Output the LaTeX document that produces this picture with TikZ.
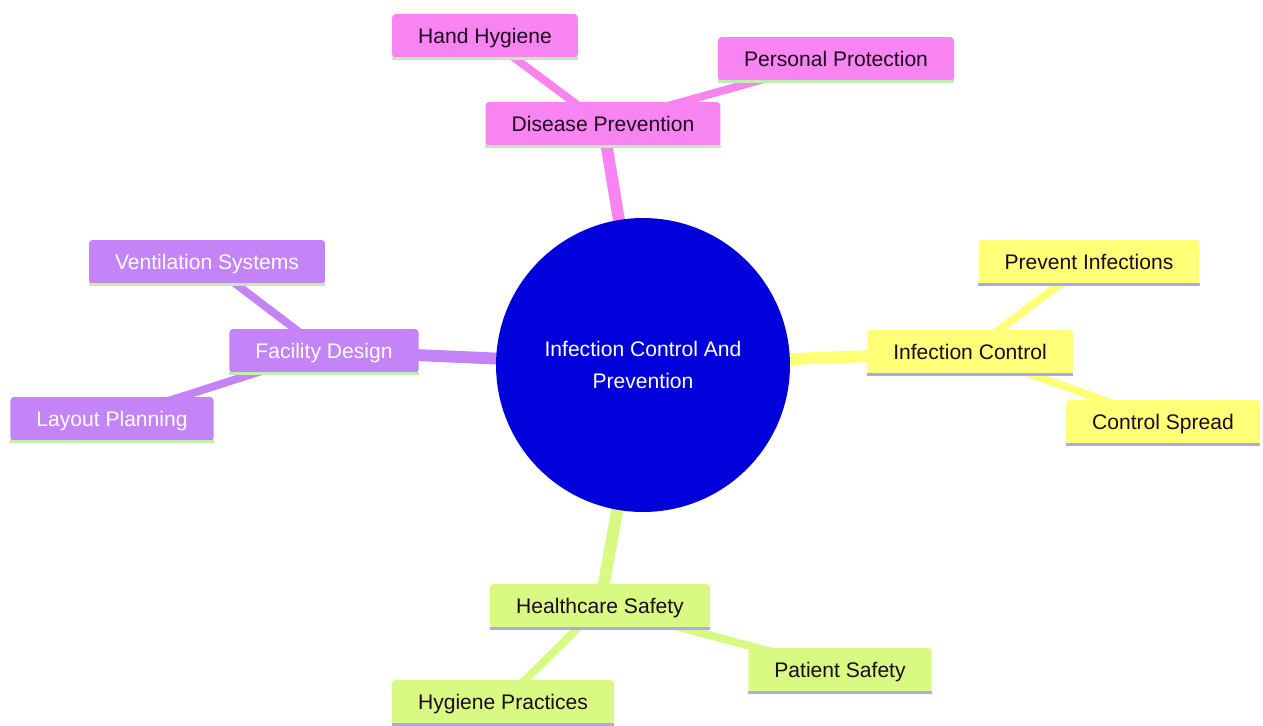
\documentclass[tikz,border=0pt]{standalone}
\usepackage{fontspec}
\setmainfont{Liberation Sans}
\usetikzlibrary{backgrounds}
\definecolor{pinkfill}{RGB}{247,132,241}
\definecolor{purplefill}{RGB}{196,132,247}
\definecolor{yellowfill}{RGB}{255,255,120}
\definecolor{limefill}{RGB}{216,250,130}
\definecolor{hubblue}{RGB}{0,0,218}
\definecolor{greenline}{RGB}{192,238,172}
\definecolor{lavline}{RGB}{172,170,236}
\definecolor{darktext}{RGB}{30,10,30}
\newcommand{\thickedge}{6.8pt}
\newcommand{\thinedge}{4.5pt}
\newcommand{\baseline}{1.7pt}

\begin{document}
\begin{tikzpicture}[x=0.02cm,y=-0.02cm,
  box/.style={rectangle,rounded corners=2pt,inner xsep=0.52cm,minimum height=0.88cm,
    text height=8.6pt,text depth=0pt,font=\fontsize{12}{14}\selectfont},
  pinkbox/.style={box,fill=pinkfill,text=darktext},
  purplebox/.style={box,fill=purplefill,text=white},
  yellowbox/.style={box,fill=yellowfill,text=darktext},
  limebox/.style={box,fill=limefill,text=darktext}]
\useasboundingbox (0,0) rectangle (1263,725);
\node[circle,fill=hubblue,text=white,minimum size=5.88cm,inner sep=0pt,align=center,
  font=\fontsize{12}{18}\selectfont] (center) at (643,365) {Infection Control And\\Prevention};
%disease prevention
\node[pinkbox] (disease) at (603,124) {Disease Prevention};
\node[pinkbox] (hand) at (485,36) {Hand Hygiene};
\node[pinkbox] (protect) at (836,59) {Personal Protection};
%facility design
\node[purplebox] (facility) at (324,351) {Facility Design};
\node[purplebox] (vent) at (207,262) {Ventilation Systems};
\node[purplebox] (layout) at (112,419) {Layout Planning};
%infection control
\node[yellowbox] (infect) at (970,352) {Infection Control};
\node[yellowbox] (prevent) at (1089,262) {Prevent Infections};
\node[yellowbox] (spread) at (1163,422) {Control Spread};
%healthcare safety
\node[limebox] (health) at (600,606) {Healthcare Safety};
\node[limebox] (hygprac) at (503,702) {Hygiene Practices};
\node[limebox] (patient) at (840,670) {Patient Safety};
%underlines
\draw[greenline] [line width = \baseline] (disease.south west) -- (disease.south east);
\draw[greenline] [line width = \baseline] (hand.south west) -- (hand.south east);
\draw[greenline] [line width = \baseline] (protect.south west) -- (protect.south east);
\draw[greenline] [line width = \baseline] (facility.south west) -- (facility.south east);
\draw[greenline] [line width = \baseline] (vent.south west) -- (vent.south east);
\draw[greenline] [line width = \baseline] (layout.south west) -- (layout.south east);
\draw[lavline] [line width = \baseline] (infect.south west) -- (infect.south east);
\draw[lavline] [line width = \baseline] (prevent.south west) -- (prevent.south east);
\draw[lavline] [line width = \baseline] (spread.south west) -- (spread.south east);
\draw[lavline] [line width = \baseline] (health.south west) -- (health.south east);
\draw[lavline] [line width = \baseline] (hygprac.south west) -- (hygprac.south east);
\draw[lavline] [line width = \baseline] (patient.south west) -- (patient.south east);
%edges
\begin{scope}[on background layer]
\draw[pinkfill] [line width = \thickedge] (center.center) -- (disease.center);
\draw[purplefill] [line width = \thickedge] (center.center) -- (facility.center);
\draw[yellowfill] [line width = \thickedge] (center.center) -- (infect.center);
\draw[limefill] [line width = \thickedge] (center.center) -- (health.center);
\draw[pinkfill] [line width = \thinedge] (disease.center) -- (hand.center);
\draw[pinkfill] [line width = \thinedge] (disease.center) -- (protect.center);
\draw[purplefill] [line width = \thinedge] (facility.center) -- (vent.center);
\draw[purplefill] [line width = \thinedge] (facility.center) -- (layout.center);
\draw[yellowfill] [line width = \thinedge] (infect.center) -- (prevent.center);
\draw[yellowfill] [line width = \thinedge] (infect.center) -- (spread.center);
\draw[limefill] [line width = \thinedge] (health.center) -- (hygprac.center);
\draw[limefill] [line width = \thinedge] (health.center) -- (patient.center);
\end{scope}
\end{tikzpicture}
\end{document}
